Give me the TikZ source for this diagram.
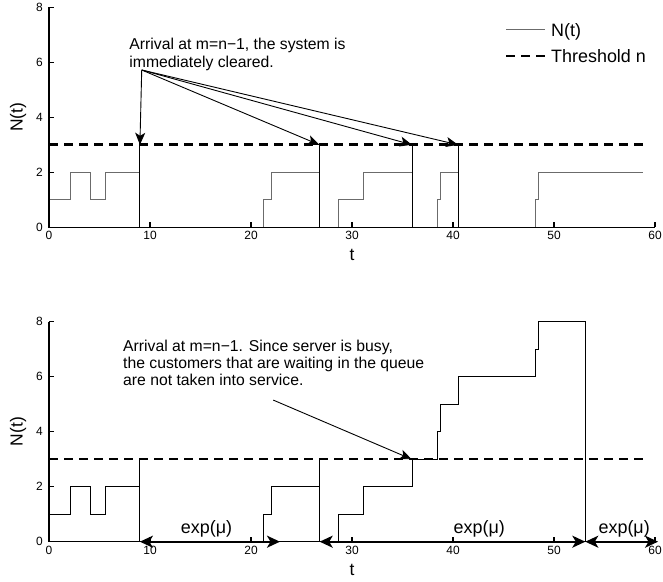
\documentclass[tikz,border=0pt]{standalone}
\usepackage{fontspec}
\setmainfont{Liberation Sans}
\usetikzlibrary{arrows.meta}
\definecolor{ngray}{gray}{0.42}
\tikzset{
  axisline/.style={line width=1.1bp, black},
  nline/.style={line width=1bp, ngray, line join=miter},
  kline/.style={line width=1bp, black, line join=miter},
  thresh/.style={line width=2.6bp, dash pattern=on 9bp off 6bp},
  ptr/.style={line width=0.9bp, -{Stealth[length=12bp,width=10bp,inset=3bp]}},
  expa/.style={line width=2bp, {Stealth[length=13bp,width=12bp,inset=3.5bp]}-{Stealth[length=13bp,width=12bp,inset=3.5bp]}},
  ticklab/.style={font=\fontsize{12}{14}\selectfont, inner sep=0pt},
  axlab/.style={font=\fontsize{17.5}{20}\selectfont, inner sep=0pt},
  anntext/.style={font=\fontsize{15.8}{17.4}\selectfont, inner sep=0pt, align=left},
  legtext/.style={font=\fontsize{18}{20}\selectfont, inner sep=0pt},
  explab/.style={font=\fontsize{18}{20}\selectfont, inner sep=0pt},
  plotaxes/.pic={
    \draw[axisline] (0,8) -- (0,0) -- (60,0);
    \foreach \v in {0,2,...,8} {
      \draw[axisline] (0,\v) -- ++(5bp,0);
      \node[ticklab, anchor=east] (yl\v) at ([xshift=-6bp]0,\v) {\v};
    }
    \foreach \v in {0,10,...,60} {
      \draw[axisline] (\v,0) -- ++(0,5bp);
      \node[ticklab, anchor=north] (xl\v) at ([yshift=-4bp]\v,0) {\v};
    }
    \node[axlab, rotate=90] (ylab) at ([xshift=-31bp]0,4) {N(t)};
    \node[axlab] (xlab) at ([yshift=-28bp]30,0) {t};
  }
}
\begin{document}
\begin{tikzpicture}[x=1bp,y=1bp]
\useasboundingbox (0,0) rectangle (663,582);

% ---------- top plot ----------
\begin{scope}[shift={(49,354.7)}, x=10.1bp, y=27.5bp]
  \draw[nline] (0,1) -| (2.15,2) -| (4.06,1) -| (5.64,2) -| (9,0) -| (21.2,1)
    -| (21.98,2) -| (26.76,0) -| (28.65,1) -| (31.09,2) -| (35.94,0)
    -| (38.45,1) -| (38.8,2) -| (40.5,0) -| (48.2,1) -| (48.5,2) -- (58.8,2);
  \coordinate (t1) at (9,3);
  \coordinate (t2) at (26.76,3);
  \coordinate (t3) at (35.94,3);
  \coordinate (t4) at (40.5,3);
  \coordinate (b1) at (9,0);
  \coordinate (b2) at (26.76,0);
  \coordinate (b3) at (35.94,0);
  \coordinate (b4) at (40.5,0);
  \draw[kline] (b1) -- (t1);
  \draw[kline] (b2) -- (t2);
  \draw[kline] (b3) -- (t3);
  \draw[kline] (b4) -- (t4);
  \coordinate (th0) at (0,3);
  \coordinate (th1) at (59.4,3);
  \draw[thresh] (th0) -- (th1);
  \pic {plotaxes};
  \node[anntext, anchor=base west] (ann1) at (7.95,5.82)
    {Arrival at m=n\textminus1, the system is\\immediately cleared.};
  \coordinate (src) at (9.18,5.72);
  \draw[ptr] (src) -- (t1);
  \draw[ptr] (src) -- (t2);
  \draw[ptr] (src) -- (t3);
  \draw[ptr] (src) -- (t4);
\end{scope}

% legend
\coordinate (l1a) at (506,552.5);
\coordinate (l1b) at (545,552.5);
\coordinate (l2a) at (506,526);
\coordinate (l2b) at (545,526);
\draw[nline] (l1a) -- (l1b);
\draw[thresh] (l2a) -- (l2b);
\node[legtext, anchor=base west] (leg1) at (551,545) {N(t)};
\node[legtext, anchor=base west] (leg2) at (551,519) {Threshold n};

% ---------- bottom plot ----------
\begin{scope}[shift={(49,40.3)}, x=10.1bp, y=27.5bp]
  \draw[kline] (0,1) -| (2.15,2) -| (4.06,1) -| (5.64,2) -| (9,0) -| (21.2,1)
    -| (21.98,2) -| (26.76,0) -| (28.65,1) -| (31.09,2) -| (35.94,3)
    -| (38.45,4) -| (38.8,5) -| (40.5,6) -| (48.2,7) -| (48.5,8) -| (53.1,0);
  \coordinate (u1) at (9,3);
  \coordinate (u2) at (26.76,3);
  \coordinate (a0) at (9,0);
  \coordinate (a1) at (22.87,0);
  \coordinate (a2) at (26.8,0);
  \coordinate (a3) at (53.1,0);
  \coordinate (a4) at (60.3,0);
  \draw[kline] (a0) -- (u1);
  \draw[kline] (26.76,0) -- (u2);
  \coordinate (bh0) at (0,3);
  \coordinate (bh1) at (59.4,3);
  \draw[thresh] (bh0) -- (bh1);
  \pic {plotaxes};
  \draw[expa] (a0) -- (a1);
  \draw[expa] (a2) -- (a3);
  \draw[expa] (a3) -- (a4);
  \node[explab, anchor=base] (e1) at ([yshift=8.4bp]15.6,0) {exp(μ)};
  \node[explab, anchor=base] (e2) at ([yshift=8.4bp]42.6,0) {exp(μ)};
  \node[explab, anchor=base] (e3) at ([yshift=8.4bp]56.95,0) {exp(μ)};
  \node[anntext, anchor=base west] (ann2) at (7.33,5.67)
    {Arrival at m=n\textminus1. Since server is busy,\\the customers that are waiting in the queue\\are not taken into service.};
  \coordinate (src2) at (22.2,5.15);
  \coordinate (tg2) at (35.9,3);
  \draw[ptr] (src2) -- (tg2);
\end{scope}
\end{tikzpicture}
\end{document}
